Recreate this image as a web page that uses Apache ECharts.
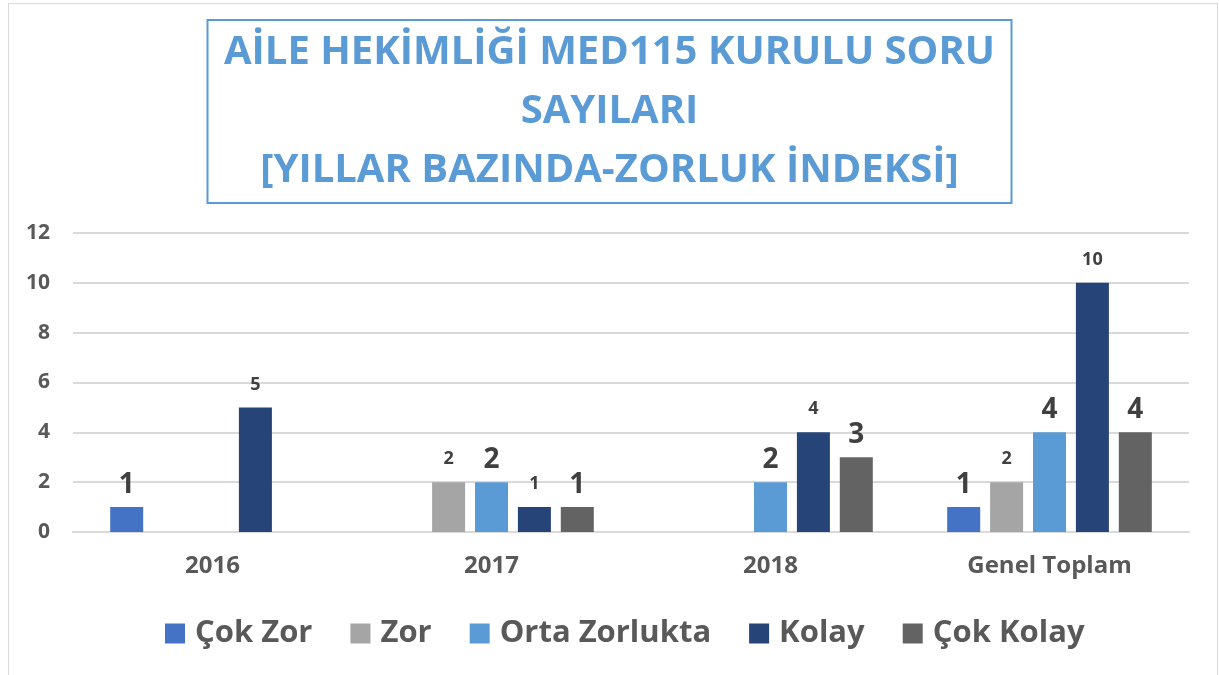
<!DOCTYPE html>
<html>
<head>
<meta charset="utf-8">
<script src="https://cdn.jsdelivr.net/npm/echarts@6/dist/echarts.min.js"></script>
<style>
  html, body { margin: 0; padding: 0; background: #fff; }
  #frame { position: absolute; left: 8px; top: 3px; width: 1210px; height: 690px; border: 1px solid #d9d9d9; box-sizing: border-box; }
  #chart { position: absolute; left: 0; top: 0; width: 1219px; height: 675px; }
</style>
</head>
<body>
<div id="frame"></div>
<div id="chart"></div>
<script>
// veriler
const categories = ['2016', '2017', '2018', 'Genel Toplam'];
const seriesNames = ['Çok Zor', 'Zor', 'Orta Zorlukta', 'Kolay', 'Çok Kolay'];
const cokZor = [1, null, null, 1];
const zor = [null, 2, null, 2];
const ortaZorlukta = [null, 2, 2, 4];
const kolay = [5, 1, 4, 10];
const cokKolay = [null, 1, 3, 4];
const yTicks = [0, 2, 4, 6, 8, 10, 12];
const titleLines = ['AİLE HEKİMLİĞİ MED115 KURULU SORU', 'SAYILARI', '[YILLAR BAZINDA-ZORLUK İNDEKSİ]'];

const colors = ['#4472C4', '#A5A5A5', '#5B9BD5', '#264478', '#636363'];
const labelSizes = [28, 18, 28, 18, 28]; // Zor ve Kolay etiketleri küçük
const font = '"Open Sans", sans-serif';

const myChart = echarts.init(document.getElementById('chart'));

const seriesData = [cokZor, zor, ortaZorlukta, kolay, cokKolay];

const option = {
    animation: false,
    color: colors,
    title: {
        text: titleLines.join('\n'),
        left: 'center',
        top: 20,
        padding: [3, 17],
        borderColor: '#5B9BD5',
        borderWidth: 2,
        textStyle: {
            fontFamily: font,
            fontSize: 40,
            fontWeight: 'bold',
            color: '#5B9BD5',
            lineHeight: 59,
            align: 'center'
        }
    },
    legend: {
        top: 613,
        left: 160,
        icon: 'rect',
        itemWidth: 20,
        itemHeight: 20,
        itemGap: 38,
        textStyle: {
            fontFamily: font,
            fontSize: 31,
            fontWeight: 'bold',
            color: '#595959',
            padding: [0, 0, 0, 5]
        },
        data: seriesNames
    },
    grid: {
        left: 73,
        right: 30,
        top: 233,
        bottom: 143,
        containLabel: false
    },
    xAxis: {
        type: 'category',
        data: categories,
        axisLine: { lineStyle: { color: '#d9d9d9', width: 2 } },
        axisTick: { show: false },
        axisLabel: {
            margin: 22,
            fontFamily: font,
            fontSize: 24,
            fontWeight: 'bold',
            color: '#595959'
        }
    },
    yAxis: {
        type: 'value',
        min: yTicks[0],
        max: yTicks[yTicks.length - 1],
        interval: 2,
        axisLine: { show: false },
        axisTick: { show: false },
        axisLabel: {
            margin: 23,
            fontFamily: font,
            fontSize: 21,
            fontWeight: 'bold',
            color: '#595959'
        },
        splitLine: { lineStyle: { color: '#d9d9d9', width: 2 } }
    },
    series: seriesNames.map((name, i) => ({
        name: name,
        type: 'bar',
        data: seriesData[i],
        barWidth: 33,
        barGap: '30%',
        itemStyle: { color: colors[i] },
        label: {
            show: true,
            position: 'top',
            distance: i % 2 === 1 ? 14 : 8,
            fontFamily: font,
            fontSize: labelSizes[i],
            fontWeight: 'bold',
            color: '#404040'
        }
    }))
};

myChart.setOption(option);
</script>
</body>
</html>
